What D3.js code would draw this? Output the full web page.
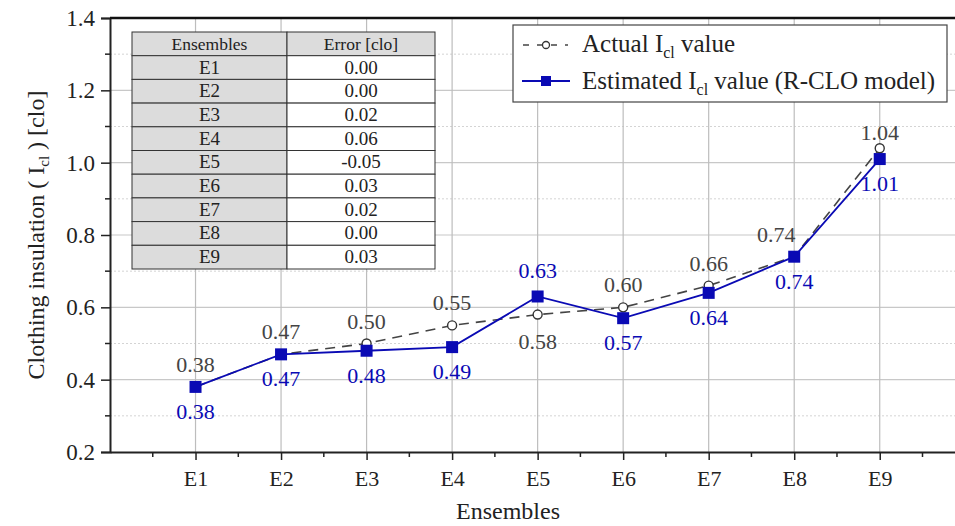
<!DOCTYPE html>
<html>
<head>
<meta charset="utf-8">
<script src="https://cdn.jsdelivr.net/npm/d3@7"></script>
<style>
body { margin: 0; background: #fff; }
svg text { font-family: "Liberation Serif", "DejaVu Serif", "Times New Roman", Times, serif; }
</style>
</head>
<body>
<div id="chart"></div>
<script>
var w = 955;
var h = 526;

var categories = ["E1","E2","E3","E4","E5","E6","E7","E8","E9"];
var actual = [0.38,0.47,0.50,0.55,0.58,0.60,0.66,0.74,1.04];
var estimated = [0.38,0.47,0.48,0.49,0.63,0.57,0.64,0.74,1.01];
var errors = ["0.00","0.00","0.02","0.06","-0.05","0.03","0.02","0.00","0.03"];
var yTicks = [0.2,0.4,0.6,0.8,1.0,1.2,1.4];
var yMinor = [0.3,0.5,0.7,0.9,1.1,1.3];

var plotL = 110, plotR = 955, plotT = 18, plotB = 452;
var serif = "'Liberation Serif', 'DejaVu Serif', serif";

var xScale = d3.scaleLinear()
			.domain([0, 9.88])
			.range([plotL, plotR]);

var yScale = d3.scaleLinear()
			.domain([0.2, 1.4])
			.range([plotB, plotT]);

var svg = d3.select("#chart")
		.append("svg")
		.attr("width", w)
		.attr("height", h)
		.attr("font-family", serif);

//grid
svg.selectAll("line.ygrid")
.data(yTicks.slice(1, -1))
.enter()
.append("line")
.attr("x1", plotL).attr("x2", plotR)
.attr("y1", function(d) { return yScale(d); })
.attr("y2", function(d) { return yScale(d); })
.attr("stroke", "#c8c8c8")
.attr("stroke-width", 1.2);

svg.selectAll("line.yminor")
.data(yMinor)
.enter()
.append("line")
.attr("x1", plotL).attr("x2", plotR)
.attr("y1", function(d) { return yScale(d); })
.attr("y2", function(d) { return yScale(d); })
.attr("stroke", "#d4d4d4")
.attr("stroke-dasharray", "2,2");

svg.selectAll("line.xgrid")
.data(categories)
.enter()
.append("line")
.attr("x1", function(d, i) { return xScale(i + 1); })
.attr("x2", function(d, i) { return xScale(i + 1); })
.attr("y1", plotT).attr("y2", plotB)
.attr("stroke", "#bdbdbd")
.attr("stroke-width", 1.2);

//axes
var yAxis = d3.axisLeft(yScale)
	.tickValues(yTicks)
	.tickFormat(d3.format(".1f"))
	.tickSize(9)
	.tickPadding(6);

var gy = svg.append("g")
	.attr("transform", "translate(" + plotL + ",0)")
	.call(yAxis)
	.attr("font-family", serif);
gy.selectAll("text").attr("font-size", "23px").attr("fill", "#222");
gy.selectAll("line").attr("stroke", "#222").attr("stroke-width", 1.5);
gy.select(".domain").attr("stroke", "#222").attr("stroke-width", 2);

gy.selectAll("line.minor")
.data(yMinor)
.enter()
.append("line")
.attr("x1", -5).attr("x2", 0)
.attr("y1", function(d) { return yScale(d); })
.attr("y2", function(d) { return yScale(d); })
.attr("stroke", "#222").attr("stroke-width", 1.5);

var xAxis = d3.axisBottom(xScale)
	.tickValues(d3.range(1, 10))
	.tickFormat(function(d) { return categories[d - 1]; })
	.tickSize(8)
	.tickPadding(10)
	.tickSizeOuter(0);

var gx = svg.append("g")
	.attr("transform", "translate(0," + plotB + ")")
	.call(xAxis)
	.attr("font-family", serif);
gx.selectAll("text").attr("font-size", "22px").attr("fill", "#222");
gx.selectAll("line").attr("stroke", "#222").attr("stroke-width", 1.5);
gx.select(".domain").attr("stroke", "#222").attr("stroke-width", 2);

gx.selectAll("line.minor")
.data(d3.range(0.5, 10, 1))
.enter()
.append("line")
.attr("x1", function(d) { return xScale(d); })
.attr("x2", function(d) { return xScale(d); })
.attr("y1", 0).attr("y2", 5)
.attr("stroke", "#222").attr("stroke-width", 1.5);

//top frame line
svg.append("line")
.attr("x1", plotL).attr("x2", plotR)
.attr("y1", plotT).attr("y2", plotT)
.attr("stroke", "#111").attr("stroke-width", 2.5);

//axis titles
svg.append("text")
.attr("x", 508)
.attr("y", 519)
.attr("text-anchor", "middle")
.attr("font-size", "24px")
.attr("fill", "#222")
.text("Ensembles");

var yt = svg.append("text")
.attr("transform", "translate(44," + (plotT + plotB) / 2 + ") rotate(-90)")
.attr("text-anchor", "middle")
.attr("font-size", "24px")
.attr("fill", "#222");
yt.append("tspan").text("Clothing insulation ( I");
yt.append("tspan").attr("font-size", "15px").attr("dy", 5).text("cl");
yt.append("tspan").attr("dy", -5).text(" ) [clo]");

//lines
var lineGen = d3.line()
	.x(function(d, i) { return xScale(i + 1); })
	.y(function(d) { return yScale(d); });

svg.append("path")
.datum(actual)
.attr("d", lineGen)
.attr("fill", "none")
.attr("stroke", "#444")
.attr("stroke-width", 1.6)
.attr("stroke-dasharray", "10,7");

svg.append("path")
.datum(estimated)
.attr("d", lineGen)
.attr("fill", "none")
.attr("stroke", "#0a0ab4")
.attr("stroke-width", 1.8);

svg.selectAll("circle.act")
.data(actual)
.enter()
.append("circle")
.attr("cx", function(d, i) { return xScale(i + 1); })
.attr("cy", function(d) { return yScale(d); })
.attr("r", 4.5)
.attr("fill", "#fff")
.attr("stroke", "#333")
.attr("stroke-width", 1.4);

svg.selectAll("rect.est")
.data(estimated)
.enter()
.append("rect")
.attr("x", function(d, i) { return xScale(i + 1) - 6; })
.attr("y", function(d) { return yScale(d) - 6; })
.attr("width", 12)
.attr("height", 12)
.attr("fill", "#0a0ab4");

//labels
var actDx = [0,0,0,0,0,0,0,-18,0];
var actDy = [-15,-15,-15,-15,34,-15,-15,-15,-8];
var estDy = [32,32,32,32,-18,32,32,32,32];

svg.selectAll("text.act")
.data(actual)
.enter()
.append("text")
.attr("x", function(d, i) { return xScale(i + 1) + actDx[i]; })
.attr("y", function(d, i) { return yScale(d) + actDy[i]; })
.attr("text-anchor", "middle")
.attr("font-size", "22px")
.attr("fill", "#444")
.text(function(d) { return d.toFixed(2); });

svg.selectAll("text.est")
.data(estimated)
.enter()
.append("text")
.attr("x", function(d, i) { return xScale(i + 1); })
.attr("y", function(d, i) { return yScale(d) + estDy[i]; })
.attr("text-anchor", "middle")
.attr("font-size", "22px")
.attr("fill", "#0a0ab4")
.text(function(d) { return d.toFixed(2); });

//table
var tx = 132, ty = 32, c1 = 155, c2 = 148, rh = 23.7;
var tbl = svg.append("g");
var rows = [["Ensembles", "Error [clo]"]].concat(categories.map(function(c, i) { return [c, errors[i]]; }));

tbl.selectAll("rect.c1")
.data(rows)
.enter()
.append("rect")
.attr("x", tx).attr("y", function(d, i) { return ty + i * rh; })
.attr("width", c1).attr("height", rh)
.attr("fill", "#dcdcdc").attr("stroke", "#333").attr("stroke-width", 1);

tbl.selectAll("rect.c2")
.data(rows)
.enter()
.append("rect")
.attr("x", tx + c1).attr("y", function(d, i) { return ty + i * rh; })
.attr("width", c2).attr("height", rh)
.attr("fill", function(d, i) { return i == 0 ? "#dcdcdc" : "#fff"; })
.attr("stroke", "#333").attr("stroke-width", 1);

tbl.selectAll("text.t1")
.data(rows)
.enter()
.append("text")
.attr("x", tx + c1 / 2).attr("y", function(d, i) { return ty + i * rh + rh / 2 + 6; })
.attr("text-anchor", "middle")
.attr("font-size", function(d, i) { return i == 0 ? "17.5px" : "19px"; })
.attr("fill", "#222")
.text(function(d) { return d[0]; });

tbl.selectAll("text.t2")
.data(rows)
.enter()
.append("text")
.attr("x", tx + c1 + c2 / 2).attr("y", function(d, i) { return ty + i * rh + rh / 2 + 6; })
.attr("text-anchor", "middle")
.attr("font-size", function(d, i) { return i == 0 ? "17.5px" : "19px"; })
.attr("fill", "#222")
.text(function(d) { return d[1]; });

//legend
var lg = svg.append("g");
lg.append("rect")
.attr("x", 513).attr("y", 25).attr("width", 434).attr("height", 77)
.attr("fill", "#fff").attr("stroke", "#444").attr("stroke-width", 1.2);

lg.append("line")
.attr("x1", 522).attr("x2", 568).attr("y1", 45).attr("y2", 45)
.attr("stroke", "#444").attr("stroke-width", 1.6).attr("stroke-dasharray", "6,8")
.attr("stroke-dashoffset", -1);
lg.append("circle")
.attr("cx", 546).attr("cy", 45).attr("r", 3.5)
.attr("fill", "#fff").attr("stroke", "#333").attr("stroke-width", 1.3);

lg.append("line")
.attr("x1", 522).attr("x2", 570).attr("y1", 81).attr("y2", 81)
.attr("stroke", "#0a0ab4").attr("stroke-width", 1.8);
lg.append("rect")
.attr("x", 541).attr("y", 76).attr("width", 10).attr("height", 10)
.attr("fill", "#0a0ab4");

var legendItems = [["Actual I", " value", 52], ["Estimated I", " value (R-CLO model)", 89]];
legendItems.forEach(function(it) {
	var t = lg.append("text")
		.attr("x", 582).attr("y", it[2])
		.attr("font-size", "25px")
		.attr("fill", "#222");
	t.append("tspan").text(it[0]);
	t.append("tspan").attr("font-size", "16px").attr("dy", 6).text("cl");
	t.append("tspan").attr("dy", -6).text(it[1]);
});
</script>
</body>
</html>
